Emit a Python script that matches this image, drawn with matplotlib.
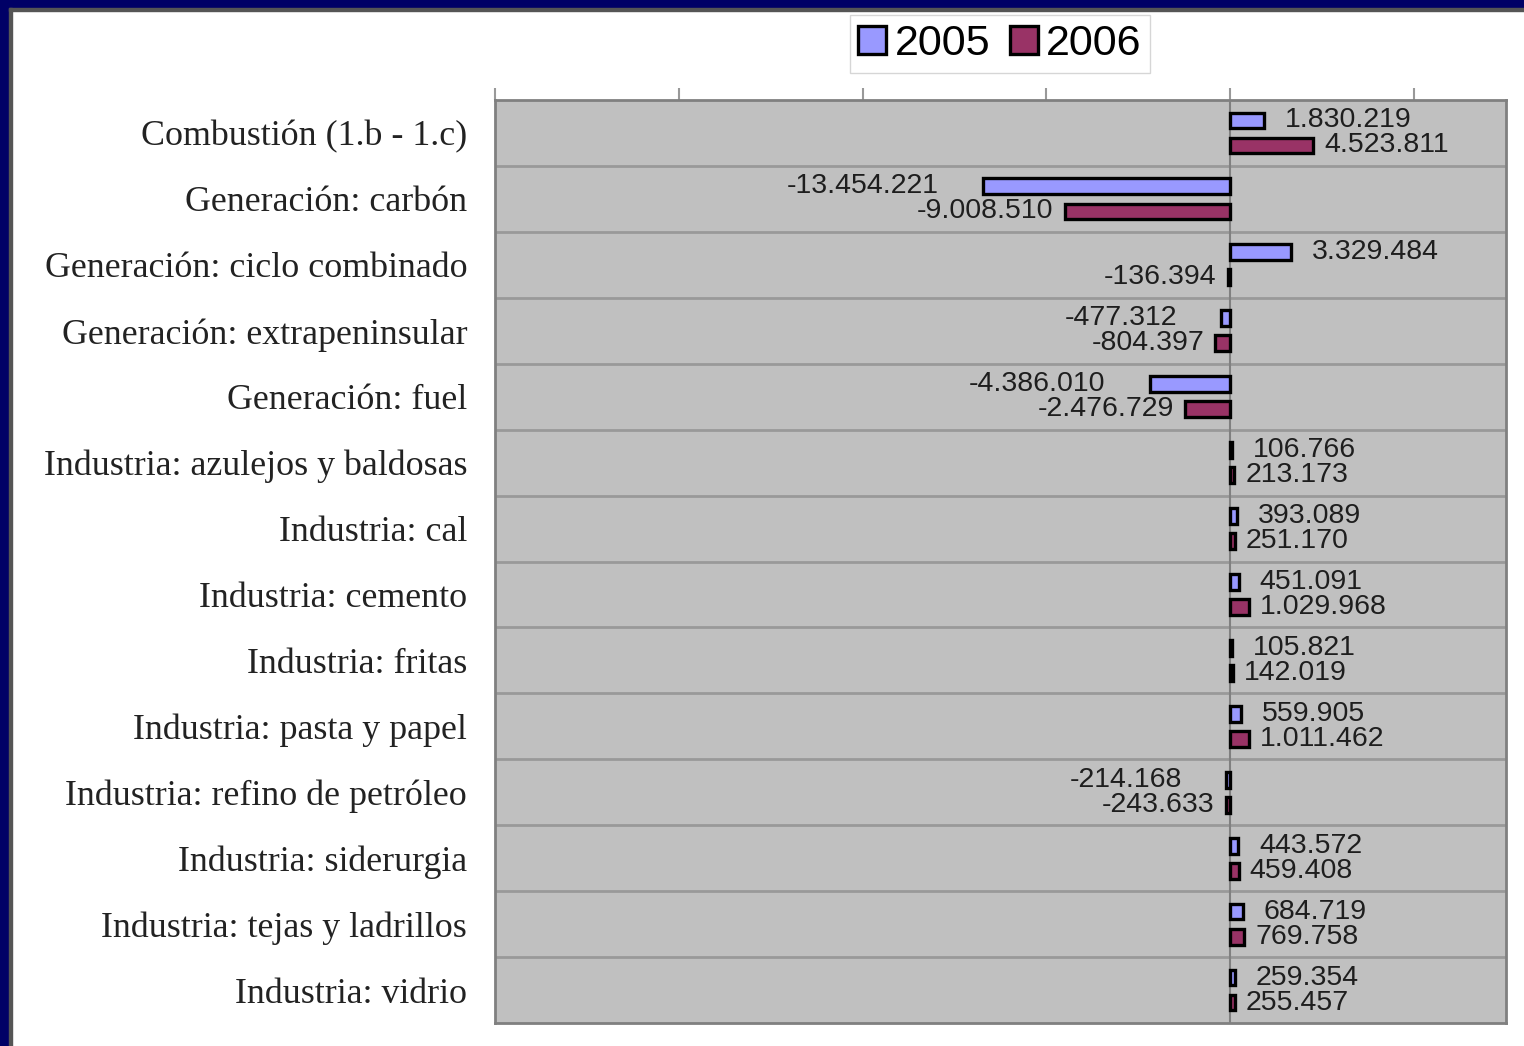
import numpy as np
import matplotlib.pyplot as plt
from matplotlib.patches import Rectangle

categories = [
    "Combustión (1.b - 1.c)",
    "Generación: carbón",
    "Generación: ciclo combinado",
    "Generación: extrapeninsular",
    "Generación: fuel",
    "Industria: azulejos y baldosas",
    "Industria: cal",
    "Industria: cemento",
    "Industria: fritas",
    "Industria: pasta y papel",
    "Industria: refino de petróleo",
    "Industria: siderurgia",
    "Industria: tejas y ladrillos",
    "Industria: vidrio",
]
v2005 = [1830219, -13454221, 3329484, -477312, -4386010, 106766, 393089,
         451091, 105821, 559905, -214168, 443572, 684719, 259354]
v2006 = [4523811, -9008510, -136394, -804397, -2476729, 213173, 251170,
         1029968, 142019, 1011462, -243633, 459408, 769758, 255457]
series_names = ["2005", "2006"]
colors = ["#9999ff", "#993366"]

def fmt(v):
    return f"{v:,}".replace(",", ".")

fig = plt.figure(figsize=(15.24, 10.46), dpi=100)
ax = fig.add_axes([495 / 1524, 23 / 1046, 1011 / 1524, 923 / 1046])
ax.set_facecolor("#c0c0c0")

y = np.arange(len(categories))
h = 0.24
off = 0.19
b1 = ax.barh(y - off, v2005, height=h, color=colors[0], edgecolor="black",
             linewidth=2.4, label=series_names[0], zorder=3)
b2 = ax.barh(y + off, v2006, height=h, color=colors[1], edgecolor="black",
             linewidth=2.4, label=series_names[1], zorder=3)

lab_font = dict(family="Liberation Sans", fontsize=20.5, color="#1e1e1e")
for yy, v in zip(y - off, v2005):
    dx = 15 if v >= 0 else -32
    ax.annotate(fmt(v), (v, yy), xytext=(dx, 0), textcoords="offset points",
                ha="left" if v >= 0 else "right", va="center", **lab_font)
for yy, v in zip(y + off, v2006):
    dx = 8 if v >= 0 else -8
    ax.annotate(fmt(v), (v, yy), xytext=(dx, 0), textcoords="offset points",
                ha="left" if v >= 0 else "right", va="center", **lab_font)

ax.set_xlim(-40e6, 15e6)
ax.set_ylim(len(categories) - 0.5, -0.5)
ax.axvline(0, color="#808080", linewidth=1.5, zorder=2)

# row separators
ax.set_yticks(y)
ax.set_yticks(np.arange(len(categories) - 1) + 0.5, minor=True)
ax.grid(True, which="minor", axis="y", color="#999999", linewidth=2, zorder=1)
ax.tick_params(axis="y", which="both", length=0)
ax.set_yticklabels(categories, family="Liberation Serif", fontsize=25.8, color="#222222")
ax.tick_params(axis="y", pad=20)

ax.set_xticks(np.arange(-40e6, 11e6, 10e6))
ax.tick_params(axis="x", bottom=False, top=True, labelbottom=False,
               labeltop=False, length=9, width=1.5, color="#999999", direction="out")

for s in ax.spines.values():
    s.set_color("#808080")
    s.set_linewidth(2)

fig.legend(handles=[b1, b2], loc="center", bbox_to_anchor=(1000 / 1524, 1 - 44 / 1046),
           ncol=2, frameon=True, fancybox=False, edgecolor="#cccccc",
           prop={"family": "Liberation Sans", "size": 31}, handlelength=0.65,
           handleheight=0.65, handletextpad=0.2, columnspacing=0.45,
           borderpad=0.2, borderaxespad=0)

# slide frame
fig.patches.append(Rectangle((0, 1 - 8 / 1046), 1, 8 / 1046, transform=fig.transFigure,
                             color="#000066", zorder=0))
fig.patches.append(Rectangle((0, 0), 9 / 1524, 1, transform=fig.transFigure,
                             color="#000066", zorder=0))
fig.patches.append(Rectangle((9 / 1524, 0), 3 / 1524, 1 - 8 / 1046, transform=fig.transFigure,
                             color="#555555", zorder=0))
fig.patches.append(Rectangle((9 / 1524, 1 - 11 / 1046), 1, 3 / 1046, transform=fig.transFigure,
                             color="#555555", zorder=0))

fig.savefig("out.png", dpi=100)
